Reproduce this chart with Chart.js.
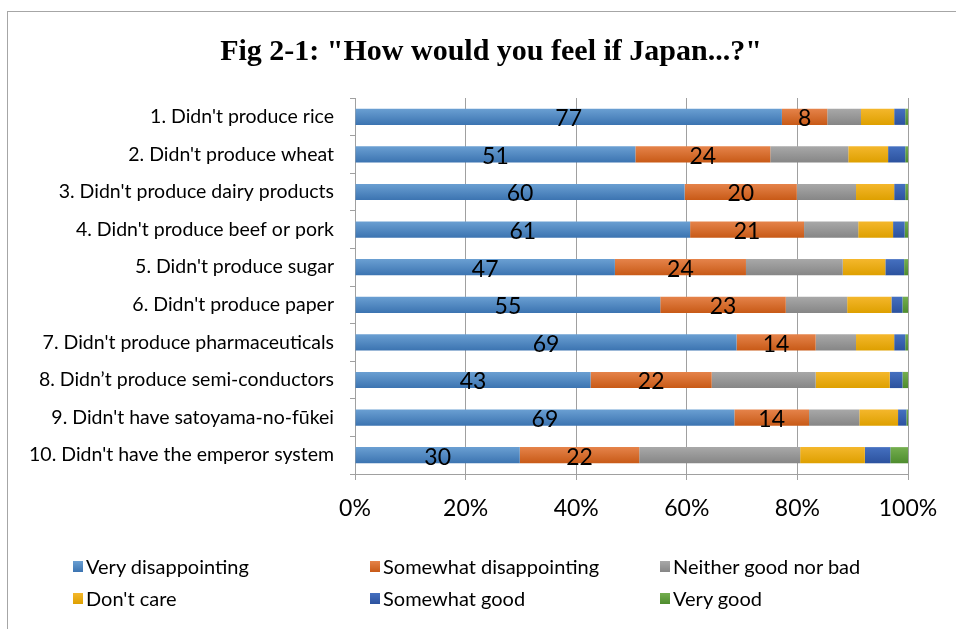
<!DOCTYPE html>
<html>
<head>
<meta charset="utf-8">
<script src="https://cdn.jsdelivr.net/npm/chart.js@4.4.0/dist/chart.umd.min.js"></script>
<style>
    html, body { margin: 0; padding: 0; background: #fff; overflow: hidden; }
    body { width: 956px; height: 629px; position: relative; }
    #frame {
        position: absolute; left: 7px; top: 11px;
        width: 980px; height: 640px;
        border: 1px solid #a6a6a6; box-sizing: border-box;
    }
    #chart { position: absolute; left: 0; top: 0; }
    #title {
        position: absolute; left: 291px; width: 400px; top: 32px;
        text-align: center; white-space: nowrap;
        display: flex; justify-content: center;
        font-family: "Liberation Serif", serif; font-weight: bold; font-size: 30px;
        line-height: 36px; color: #000;
    }
    #legend { position: absolute; left: 0; top: 0; }
    .leg-item {
        position: absolute; display: flex; align-items: center;
        font-family: Lato, sans-serif; font-size: 20px; color: #000;
        white-space: nowrap; height: 22px;
    }
    .leg-box { width: 10px; height: 11px; margin-right: 3px; }
</style>
</head>
<body>
<div id="frame">
    <canvas id="chart" width="966" height="617"></canvas>
</div>
<div id="title">Fig 2-1: "How would you feel if Japan...?"</div>
<div id="legend"></div>
<script>
// ----- DATOS -----
const categories = [
    "1. Didn't produce rice",
    "2. Didn't produce wheat",
    "3. Didn't produce dairy products",
    "4. Didn't produce beef or pork",
    "5. Didn't produce sugar",
    "6. Didn't produce paper",
    "7. Didn't produce pharmaceuticals",
    "8. Didn\u2019t produce semi-conductors",
    "9. Didn't have satoyama-no-f\u016bkei",
    "10. Didn't have the emperor system"
];
const seriesNames = ['Very disappointing', 'Somewhat disappointing', 'Neither good nor bad',
    "Don't care", 'Somewhat good', 'Very good'];

const veryDisappointing     = [77.2, 50.7, 59.6, 60.6, 47.0, 55.2, 69.0, 42.6, 68.6, 29.8];
const somewhatDisappointing = [8.2, 24.4, 20.3, 20.6, 23.7, 22.7, 14.3, 21.9, 13.5, 21.6];
const neitherGoodNorBad     = [6.1, 14.1, 10.7, 9.8, 17.5, 11.1, 7.3, 18.8, 9.1, 29.1];
const dontCare              = [6.0, 7.2, 6.9, 6.3, 7.7, 8.0, 6.9, 13.4, 7.0, 11.7];
const somewhatGood          = [2.0, 3.1, 2.0, 2.1, 3.4, 2.0, 2.0, 2.3, 1.5, 4.6];
const veryGood              = [0.5, 0.5, 0.5, 0.6, 0.7, 1.0, 0.5, 1.0, 0.3, 3.2];

const xTicks = [0, 20, 40, 60, 80, 100];

// colores (arriba / abajo del degradado)
const colorPairs = [
    ['#6a9fd2', '#3c74b1'],
    ['#e5834a', '#c85a17'],
    ['#a8a8a8', '#868686'],
    ['#f4b72c', '#dea000'],
    ['#4570c0', '#2c529e'],
    ['#74ae4f', '#4e8c2e']
];

const allSeries = [veryDisappointing, somewhatDisappointing, neitherGoodNorBad, dontCare, somewhatGood, veryGood];
const gridColor = '#a0a0a0';

function barGradient(pair) {
    return function(context) {
        const chart = context.chart;
        const yScale = chart.scales && chart.scales.y;
        if (!yScale || context.dataIndex === undefined) return pair[1];
        const y = yScale.getPixelForValue(context.dataIndex);
        if (!isFinite(y)) return pair[1];
        const g = chart.ctx.createLinearGradient(0, y - 8, 0, y + 8);
        g.addColorStop(0, pair[0]);
        g.addColorStop(1, pair[1]);
        return g;
    };
}

// etiquetas de valor solo para las dos primeras series
const valueLabels = {
    id: 'valueLabels',
    afterDatasetsDraw(chart) {
        const ctx = chart.ctx;
        ctx.save();
        ctx.font = '23px Lato, sans-serif';
        ctx.fillStyle = '#000';
        ctx.textAlign = 'center';
        ctx.textBaseline = 'middle';
        [0, 1].forEach(di => {
            const meta = chart.getDatasetMeta(di);
            meta.data.forEach((bar, i) => {
                const v = chart.data.datasets[di].data[i];
                ctx.fillText(Math.round(v), (bar.x + bar.base) / 2, bar.y + 2);
            });
        });
        ctx.restore();
    }
};

const chart = new Chart(document.getElementById('chart'), {
    type: 'bar',
    data: {
        labels: categories,
        datasets: allSeries.map((data, i) => ({
            label: seriesNames[i],
            data: data,
            backgroundColor: barGradient(colorPairs[i]),
            borderWidth: 0,
            barPercentage: 0.43,
            categoryPercentage: 1
        }))
    },
    options: {
        indexAxis: 'y',
        responsive: false,
        animation: false,
        layout: { padding: { left: 0, right: 66, top: 86, bottom: 105 } },
        plugins: {
            legend: { display: false },
            tooltip: { enabled: false },
            title: { display: false }
        },
        scales: {
            x: {
                stacked: true,
                min: 0,
                max: 100,
                afterFit: s => { s.height = 50; },
                afterBuildTicks: s => { s.ticks = xTicks.map(v => ({ value: v })); },
                ticks: {
                    color: '#000',
                    font: { family: 'Lato, sans-serif', size: 23 },
                    padding: 15,
                    callback: v => v + '%'
                },
                grid: { color: gridColor, tickLength: 6, lineWidth: 1 },
                border: { display: true, color: gridColor }
            },
            y: {
                stacked: true,
                afterFit: s => { s.width = 347; },
                ticks: {
                    color: '#000',
                    font: { family: 'Lato, sans-serif', size: 19.5 },
                    padding: 16,
                    autoSkip: false
                },
                grid: { drawOnChartArea: false, drawTicks: true, tickLength: 5, color: gridColor },
                border: { display: true, color: gridColor }
            }
        }
    },
    plugins: [valueLabels]
});

// ----- LEYENDA -----
const legendEl = document.getElementById('legend');
const legendCols = [73, 370, 660];
const legendRows = [566, 598];
chart.data.datasets.forEach((ds, i) => {
    const item = document.createElement('div');
    item.className = 'leg-item';
    item.style.left = legendCols[i % 3] + 'px';
    item.style.top = (legendRows[Math.floor(i / 3)] - 11) + 'px';
    const box = document.createElement('span');
    box.className = 'leg-box';
    box.style.background = 'linear-gradient(' + colorPairs[i][0] + ',' + colorPairs[i][1] + ')';
    const txt = document.createElement('span');
    txt.textContent = ds.label;
    item.appendChild(box);
    item.appendChild(txt);
    legendEl.appendChild(item);
});
</script>
</body>
</html>
